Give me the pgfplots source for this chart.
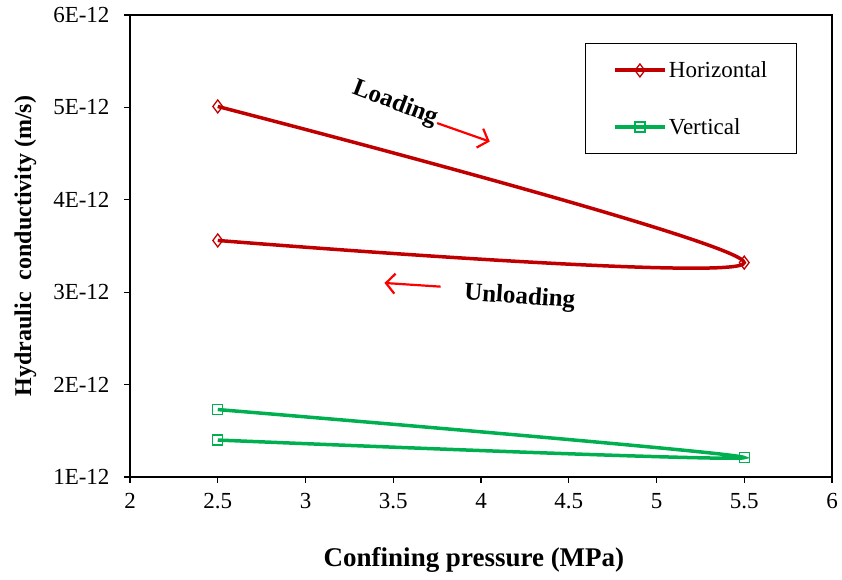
\documentclass[border=0pt]{standalone}
\usepackage{pgfplots}
\pgfplotsset{compat=1.18}
\usepackage{fontspec}
\setmainfont{Liberation Serif}
\usetikzlibrary{arrows.meta}
\definecolor{hred}{HTML}{C00000}
\definecolor{vgreen}{HTML}{00B050}
\begin{document}
\begin{tikzpicture}
\useasboundingbox (0,0) rectangle (842pt,580pt);
\begin{axis}[
  at={(130pt,103pt)}, anchor=south west,
  scale only axis, width=702pt, height=462pt,
  xmin=2, xmax=6, ymin=1, ymax=6,
  xtick={2,2.5,...,6}, ytick={1,2,3,4,5,6},
  yticklabels={1E-12,2E-12,3E-12,4E-12,5E-12,6E-12},
  /pgf/number format/assume math mode=true,
  xticklabel style={/pgf/number format/fixed, font=\fontsize{23}{26}\selectfont, yshift=-7pt},
  yticklabel style={font=\fontsize{23}{26}\selectfont, xshift=-11pt},
  tick align=outside, tick pos=left,
  major tick length=6pt,
  axis line style={line width=1.2pt},
  tick style={line width=1.2pt, black},
  xlabel={\textbf{Confining pressure (MPa)}},
  ylabel={\textbf{Hydraulic\ \ conductivity (m/s)}},
  xlabel style={font=\fontsize{27}{30}\selectfont, at={(axis description cs:0.49,-0.18)}, anchor=center},
  ylabel style={font=\fontsize{24}{28}\selectfont, at={(axis description cs:-0.149,0.5)}, anchor=center, rotate=0},
  legend style={at={(axis description cs:0.648,0.939)}, anchor=north west,
    draw=black, line width=1.1pt, inner xsep=27.5pt, inner ysep=16pt,
    font=\fontsize{23}{27}\selectfont, row sep=35pt},
  legend cell align=left,
  legend image code/.code={%
    \draw[line width=4pt, mark=none] (0pt,0pt) -- (50pt,0pt);
    \draw[mark repeat=2, mark phase=2, draw=none] plot coordinates {(0pt,0pt) (25pt,0pt) (50pt,0pt)};},
]
% horizontal sample: loading then unloading
\addplot[hred, line width=3.5pt, smooth, tension=0.55,
  mark=diamond, mark size=6.5pt, mark options={line width=1.3pt, fill=white, solid, draw=hred}]
  coordinates {(2.5,5.01) (5.5,3.32) (2.5,3.56)};
\addlegendentry{Horizontal}
% vertical sample: loading then unloading
\addplot[vgreen, line width=3.5pt, smooth, tension=0.55,
  mark=square, mark size=5pt, mark options={line width=1.3pt, fill=white, solid, draw=vgreen}]
  coordinates {(2.5,1.73) (5.5,1.21) (2.5,1.40)};
\addlegendentry{Vertical}
\node[font=\fontsize{25}{29}\selectfont\bfseries, rotate=-21, anchor=center] at (axis cs:3.51,5.04) {Loading};
\draw[red, line width=2.2pt, -{Straight Barb[length=9pt,width=20pt]}] (axis cs:3.75,4.83) -- (axis cs:4.05,4.63);
\node[font=\fontsize{25}{29}\selectfont\bfseries, rotate=-4, anchor=center] at (axis cs:4.22,2.94) {Unloading};
\draw[red, line width=2.2pt, -{Straight Barb[length=9pt,width=20pt]}] (axis cs:3.77,3.06) -- (axis cs:3.45,3.10);
\end{axis}
\end{tikzpicture}
\end{document}
